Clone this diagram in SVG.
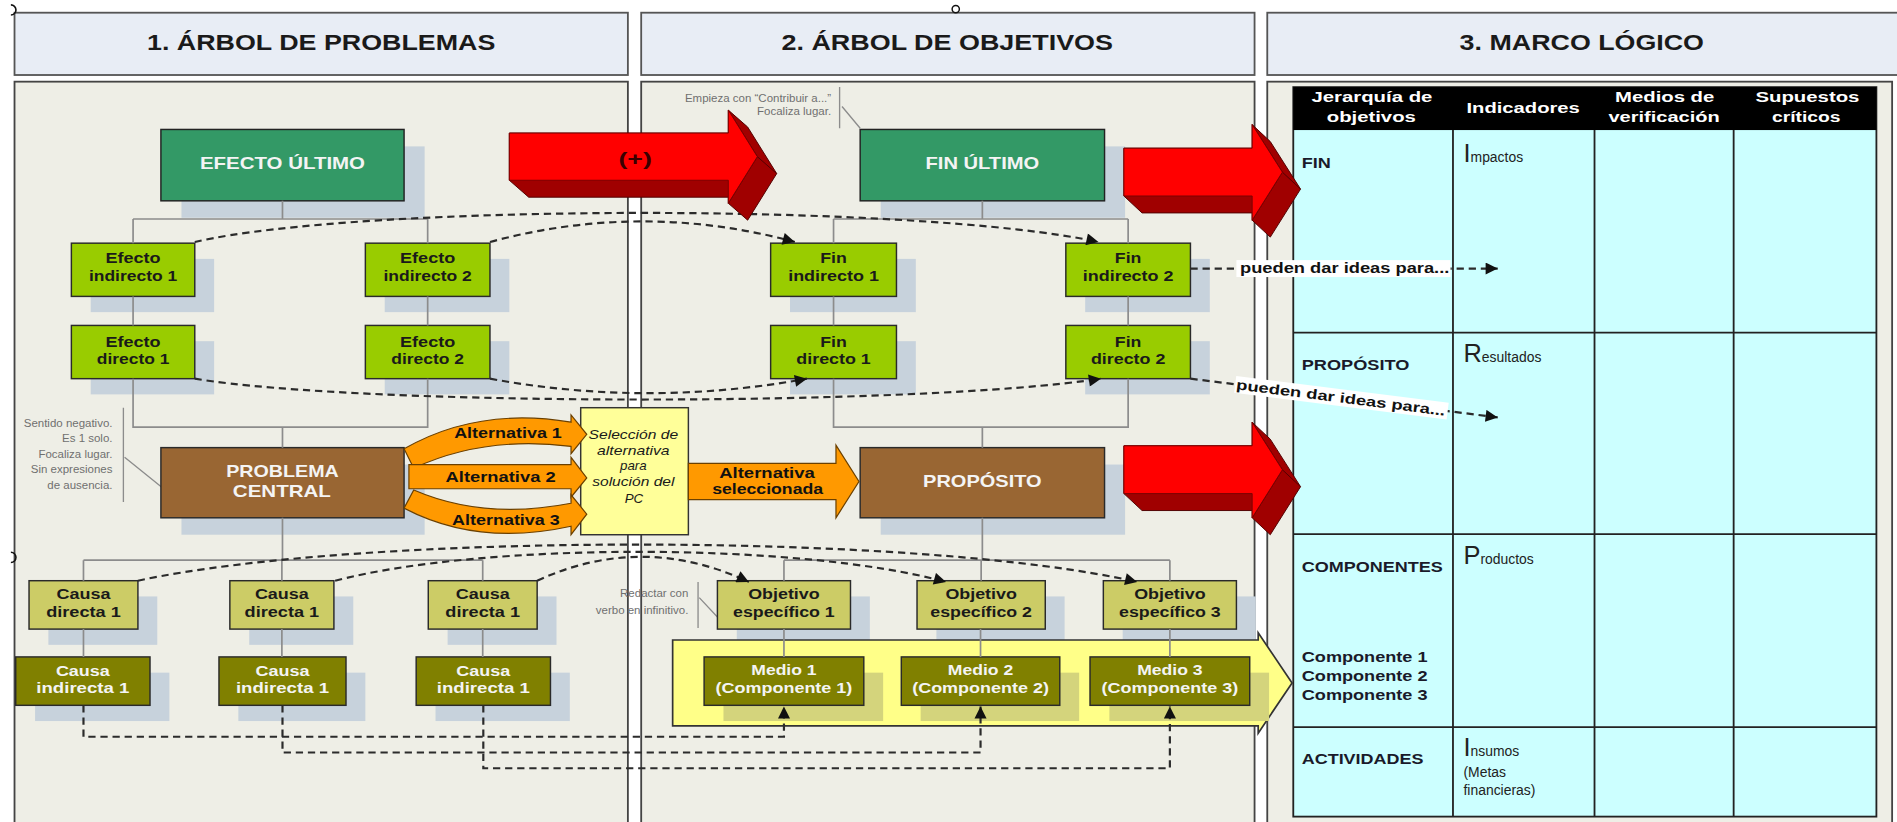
<svg xmlns="http://www.w3.org/2000/svg" width="1897" height="822" viewBox="0 0 1897 822">
<defs>
<style>
text{font-family:"Liberation Sans",Arial,sans-serif}
.tbox{fill:#e8edf5;stroke:#555;stroke-width:1.5}
.panel{fill:#eeeee6;stroke:#444;stroke-width:1.5}
.title{font-weight:bold;font-size:17.5px;fill:#1a1a1a;text-anchor:middle}
.sh{fill:#c7d2dc}
.shy{fill:#d4d47c}
.green{fill:#339966;stroke:#222;stroke-width:1.2}
.lime{fill:#99cc00;stroke:#2a2a2a;stroke-width:1.2}
.brown{fill:#996633;stroke:#2a2a2a;stroke-width:1.2}
.oll{fill:#cccc66;stroke:#2a2a2a;stroke-width:1.2}
.old{fill:#808000;stroke:#2a2a2a;stroke-width:1.2}
.wt{font-weight:bold;font-size:13px;fill:#f4f4f4;text-anchor:middle}
.bt{font-weight:bold;font-size:12px;fill:#1a1a1a;text-anchor:middle}
.ws{font-weight:bold;font-size:12px;fill:#f4f4f4;text-anchor:middle}
.ann{font-size:9.5px;fill:#707070;text-anchor:end}
.annl{stroke:#8c8c8c;stroke-width:1.1;fill:none}
.conn{stroke:#8c8c8c;stroke-width:1.4;fill:none}
.dash{stroke:#2b2b2b;stroke-width:1.8;stroke-dasharray:6 4;fill:none}
.orange{fill:#ff9900;stroke:#6b4000;stroke-width:1}
.alt{font-weight:bold;font-size:12px;fill:#111;text-anchor:middle}
.redf{fill:#ff0000;stroke:#7a0000;stroke-width:0.8}
.redd{fill:#a00000;stroke:#500000;stroke-width:0.8}
.hdr{font-weight:bold;font-size:12px;fill:#fff;text-anchor:middle}
.row{font-weight:bold;font-size:11.5px;fill:#1a1a2a}
.ind{font-size:11.5px;fill:#222}
.big{font-size:21px}
.lbl{font-weight:bold;font-size:11.5px;fill:#111}
.sel{font-style:italic;font-size:11px;fill:#1a1a1a;text-anchor:middle}
</style>
<marker id="ah" viewBox="0 0 10 10" refX="10" refY="5" markerUnits="userSpaceOnUse" markerWidth="12" markerHeight="10" orient="auto">
<path d="M0,0 L10,5 L0,10 z" fill="#111"/>
</marker>
</defs>
<rect x="0" y="0" width="1897" height="822" fill="#ffffff"/>
<g transform="scale(1.2098)">

<g id="panels">
<rect class="tbox" x="12" y="10.5" width="507" height="51.5"/>
<rect class="tbox" x="530" y="10.5" width="507" height="51.5"/>
<rect class="tbox" x="1047.5" y="10.5" width="540" height="51.5"/>
<text class="title" x="265.5" y="41.3" textLength="288" lengthAdjust="spacingAndGlyphs">1. ÁRBOL DE PROBLEMAS</text>
<text class="title" x="783" y="41.3" textLength="274" lengthAdjust="spacingAndGlyphs">2. ÁRBOL DE OBJETIVOS</text>
<text class="title" x="1307.5" y="41.3" textLength="202" lengthAdjust="spacingAndGlyphs">3. MARCO LÓGICO</text>
<rect class="panel" x="12" y="67.5" width="507" height="640"/>
<rect class="panel" x="530" y="67.5" width="507" height="640"/>
<rect class="panel" x="1047.5" y="67.5" width="516.5" height="640"/>
<circle cx="790" cy="7.5" r="3" fill="#fff" stroke="#111" stroke-width="1.2"/>
<path d="M9,4 a4.2,4.2 0 0 1 0,8.4 M9,456.5 a4.2,4.2 0 0 1 0,8.4" fill="none" stroke="#111" stroke-width="1.3"/>
</g>

<g id="annotations">
<text class="ann" x="93" y="352.7">Sentido negativo.</text>
<text class="ann" x="93" y="365.6">Es 1 solo.</text>
<text class="ann" x="93" y="378.3">Focaliza lugar.</text>
<text class="ann" x="93" y="391.2">Sin expresiones</text>
<text class="ann" x="93" y="404.2">de ausencia.</text>
<path class="annl" d="M102,337 V415 M103,378 L134,403"/>
<text class="ann" x="687" y="84">Empieza con “Contribuir a...”</text>
<text class="ann" x="687" y="95">Focaliza lugar.</text>
<path class="annl" d="M694,72 V106 M696,88 L711,106"/>
<text class="ann" x="569" y="493.2">Redactar con</text>
<text class="ann" x="569" y="507.5">verbo en infinitivo.</text>
<path class="annl" d="M577,481 V519 M578,494 L593,510"/>
</g>

<g id="marco-logico">
<rect x="1069" y="72" width="482" height="603" fill="#ccffff" stroke="#222" stroke-width="1.5"/>
<rect x="1069" y="72" width="482" height="35.5" fill="#000"/>
<path d="M1201,107.5 V675 M1318,107.5 V675 M1433,107.5 V675 M1069,275 H1551 M1069,441.5 H1551 M1069,601 H1551" stroke="#222" stroke-width="1.5" fill="none"/>
<text class="hdr" x="1134" y="84" textLength="100" lengthAdjust="spacingAndGlyphs">Jerarquía de</text>
<text class="hdr" x="1133.5" y="100.6" textLength="73.6" lengthAdjust="spacingAndGlyphs">objetivos</text>
<text class="hdr" x="1259" y="93.7" textLength="93.6" lengthAdjust="spacingAndGlyphs">Indicadores</text>
<text class="hdr" x="1376" y="84" textLength="82" lengthAdjust="spacingAndGlyphs">Medios de</text>
<text class="hdr" x="1375.5" y="100.6" textLength="92" lengthAdjust="spacingAndGlyphs">verificación</text>
<text class="hdr" x="1494" y="84" textLength="86" lengthAdjust="spacingAndGlyphs">Supuestos</text>
<text class="hdr" x="1493" y="100.6" textLength="56.6" lengthAdjust="spacingAndGlyphs">críticos</text>
<text class="row" x="1076" y="139" textLength="24" lengthAdjust="spacingAndGlyphs">FIN</text>
<text class="row" x="1076" y="305.8" textLength="89" lengthAdjust="spacingAndGlyphs">PROPÓSITO</text>
<text class="row" x="1076" y="473" textLength="116.6" lengthAdjust="spacingAndGlyphs">COMPONENTES</text>
<text class="row" x="1076" y="547" textLength="104" lengthAdjust="spacingAndGlyphs">Componente 1</text>
<text class="row" x="1076" y="563" textLength="104" lengthAdjust="spacingAndGlyphs">Componente 2</text>
<text class="row" x="1076" y="578.5" textLength="104" lengthAdjust="spacingAndGlyphs">Componente 3</text>
<text class="row" x="1076" y="631.8" textLength="100.6" lengthAdjust="spacingAndGlyphs">ACTIVIDADES</text>
<text class="ind" x="1209.7" y="133.6"><tspan class="big">I</tspan>mpactos</text>
<text class="ind" x="1209.7" y="299"><tspan class="big">R</tspan>esultados</text>
<text class="ind" x="1209.7" y="466.2"><tspan class="big">P</tspan>roductos</text>
<text class="ind" x="1209.7" y="625"><tspan class="big">I</tspan>nsumos</text>
<text class="ind" x="1209.7" y="642">(Metas</text>
<text class="ind" x="1209.7" y="657">financieras)</text>
</g>

<g id="efecto-ultimo"><rect class="sh" x="150" y="121" width="201" height="59"/><rect class="green" x="133" y="107" width="201" height="59"/><text class="wt" x="233.5" y="140" textLength="136.5" lengthAdjust="spacingAndGlyphs">EFECTO ÚLTIMO</text></g>
<g id="efecto-indirecto-1"><rect class="sh" x="75" y="214" width="102" height="44"/><rect class="lime" x="59" y="201" width="102" height="44"/><text class="bt" x="110" y="217.6" textLength="45.6" lengthAdjust="spacingAndGlyphs">Efecto</text><text class="bt" x="110" y="232.6" textLength="73" lengthAdjust="spacingAndGlyphs">indirecto 1</text></g>
<g id="efecto-indirecto-2"><rect class="sh" x="318" y="214" width="103" height="44"/><rect class="lime" x="302" y="201" width="103" height="44"/><text class="bt" x="353.5" y="217.6" textLength="45.6" lengthAdjust="spacingAndGlyphs">Efecto</text><text class="bt" x="353.5" y="232.6" textLength="73" lengthAdjust="spacingAndGlyphs">indirecto 2</text></g>
<g id="efecto-directo-1"><rect class="sh" x="75" y="282" width="102" height="44"/><rect class="lime" x="59" y="269" width="102" height="44"/><text class="bt" x="110" y="286.6" textLength="45.6" lengthAdjust="spacingAndGlyphs">Efecto</text><text class="bt" x="110" y="300.9" textLength="60" lengthAdjust="spacingAndGlyphs">directo 1</text></g>
<g id="efecto-directo-2"><rect class="sh" x="318" y="282" width="103" height="44"/><rect class="lime" x="302" y="269" width="103" height="44"/><text class="bt" x="353.5" y="286.6" textLength="45.6" lengthAdjust="spacingAndGlyphs">Efecto</text><text class="bt" x="353.5" y="300.9" textLength="60" lengthAdjust="spacingAndGlyphs">directo 2</text></g>
<g id="problema-central"><rect class="sh" x="150" y="384" width="201" height="58"/><rect class="brown" x="133" y="370" width="201" height="58"/><text class="wt" x="233.5" y="394" textLength="93" lengthAdjust="spacingAndGlyphs">PROBLEMA</text><text class="wt" x="233" y="410.6" textLength="81" lengthAdjust="spacingAndGlyphs">CENTRAL</text></g>
<g id="causa-directa-1"><rect class="sh" x="40" y="493" width="90" height="40"/><rect class="oll" x="24" y="480" width="90" height="40"/><text class="bt" x="69" y="495.4" textLength="44.6" lengthAdjust="spacingAndGlyphs">Causa</text><text class="bt" x="69" y="509.7" textLength="61.7" lengthAdjust="spacingAndGlyphs">directa 1</text></g>
<g id="causa-directa-2"><rect class="sh" x="206" y="493" width="86" height="40"/><rect class="oll" x="190" y="480" width="86" height="40"/><text class="bt" x="233" y="495.4" textLength="44.6" lengthAdjust="spacingAndGlyphs">Causa</text><text class="bt" x="233" y="509.7" textLength="61.7" lengthAdjust="spacingAndGlyphs">directa 1</text></g>
<g id="causa-directa-3"><rect class="sh" x="370" y="493" width="90" height="40"/><rect class="oll" x="354" y="480" width="90" height="40"/><text class="bt" x="399" y="495.4" textLength="44.6" lengthAdjust="spacingAndGlyphs">Causa</text><text class="bt" x="399" y="509.7" textLength="61.7" lengthAdjust="spacingAndGlyphs">directa 1</text></g>
<g id="causa-indirecta-1"><rect class="sh" x="29" y="556" width="111" height="40"/><rect class="old" x="13" y="543" width="111" height="40"/><text class="ws" x="68.5" y="558.8" textLength="44.6" lengthAdjust="spacingAndGlyphs">Causa</text><text class="ws" x="68.5" y="573.1" textLength="77" lengthAdjust="spacingAndGlyphs">indirecta 1</text></g>
<g id="causa-indirecta-2"><rect class="sh" x="197" y="556" width="105" height="40"/><rect class="old" x="181" y="543" width="105" height="40"/><text class="ws" x="233.5" y="558.8" textLength="44.6" lengthAdjust="spacingAndGlyphs">Causa</text><text class="ws" x="233.5" y="573.1" textLength="77" lengthAdjust="spacingAndGlyphs">indirecta 1</text></g>
<g id="causa-indirecta-3"><rect class="sh" x="360" y="556" width="111" height="40"/><rect class="old" x="344" y="543" width="111" height="40"/><text class="ws" x="399.5" y="558.8" textLength="44.6" lengthAdjust="spacingAndGlyphs">Causa</text><text class="ws" x="399.5" y="573.1" textLength="77" lengthAdjust="spacingAndGlyphs">indirecta 1</text></g>

<g id="fin-ultimo"><rect class="sh" x="728" y="121" width="202" height="59"/><rect class="green" x="711" y="107" width="202" height="59"/><text class="wt" x="812" y="140" textLength="94" lengthAdjust="spacingAndGlyphs">FIN ÚLTIMO</text></g>
<g id="fin-indirecto-1"><rect class="sh" x="653" y="214" width="104" height="44"/><rect class="lime" x="637" y="201" width="104" height="44"/><text class="bt" x="689" y="217.6" textLength="22" lengthAdjust="spacingAndGlyphs">Fin</text><text class="bt" x="689" y="232.6" textLength="75" lengthAdjust="spacingAndGlyphs">indirecto 1</text></g>
<g id="fin-indirecto-2"><rect class="sh" x="897" y="214" width="103" height="44"/><rect class="lime" x="881" y="201" width="103" height="44"/><text class="bt" x="932.5" y="217.6" textLength="22" lengthAdjust="spacingAndGlyphs">Fin</text><text class="bt" x="932.5" y="232.6" textLength="75" lengthAdjust="spacingAndGlyphs">indirecto 2</text></g>
<g id="fin-directo-1"><rect class="sh" x="653" y="282" width="104" height="44"/><rect class="lime" x="637" y="269" width="104" height="44"/><text class="bt" x="689" y="286.6" textLength="22" lengthAdjust="spacingAndGlyphs">Fin</text><text class="bt" x="689" y="300.9" textLength="61.5" lengthAdjust="spacingAndGlyphs">directo 1</text></g>
<g id="fin-directo-2"><rect class="sh" x="897" y="282" width="103" height="44"/><rect class="lime" x="881" y="269" width="103" height="44"/><text class="bt" x="932.5" y="286.6" textLength="22" lengthAdjust="spacingAndGlyphs">Fin</text><text class="bt" x="932.5" y="300.9" textLength="61.5" lengthAdjust="spacingAndGlyphs">directo 2</text></g>
<g id="proposito"><rect class="sh" x="728" y="384" width="202" height="58"/><rect class="brown" x="711" y="370" width="202" height="58"/><text class="wt" x="812" y="402.3" textLength="98" lengthAdjust="spacingAndGlyphs">PROPÓSITO</text></g>
<g id="objetivo-1"><rect class="sh" x="609" y="493" width="110" height="40"/><rect class="oll" x="593" y="480" width="110" height="40"/><text class="bt" x="648" y="495.4" textLength="59" lengthAdjust="spacingAndGlyphs">Objetivo</text><text class="bt" x="648" y="509.7" textLength="84" lengthAdjust="spacingAndGlyphs">específico 1</text></g>
<g id="objetivo-2"><rect class="sh" x="774" y="493" width="106" height="40"/><rect class="oll" x="758" y="480" width="106" height="40"/><text class="bt" x="811" y="495.4" textLength="59" lengthAdjust="spacingAndGlyphs">Objetivo</text><text class="bt" x="811" y="509.7" textLength="84" lengthAdjust="spacingAndGlyphs">específico 2</text></g>
<g id="objetivo-3"><rect class="sh" x="928" y="493" width="110" height="40"/><rect class="oll" x="912" y="480" width="110" height="40"/><text class="bt" x="967" y="495.4" textLength="59" lengthAdjust="spacingAndGlyphs">Objetivo</text><text class="bt" x="967" y="509.7" textLength="84" lengthAdjust="spacingAndGlyphs">específico 3</text></g>

<g id="banda-componentes"><path d="M556,529 H1040 V523 L1068,564.5 L1040,606 V600 H556 Z" fill="#ffff88" stroke="#333" stroke-width="1.4"/></g>
<g id="medio-1"><rect class="shy" x="598" y="556" width="132" height="40"/><rect class="old" x="582" y="543" width="132" height="40"/><text class="ws" x="648" y="558" textLength="54" lengthAdjust="spacingAndGlyphs">Medio 1</text><text class="ws" x="648" y="573.1" textLength="113" lengthAdjust="spacingAndGlyphs">(Componente 1)</text></g>
<g id="medio-2"><rect class="shy" x="761" y="556" width="131" height="40"/><rect class="old" x="745" y="543" width="131" height="40"/><text class="ws" x="810.5" y="558" textLength="54" lengthAdjust="spacingAndGlyphs">Medio 2</text><text class="ws" x="810.5" y="573.1" textLength="113" lengthAdjust="spacingAndGlyphs">(Componente 2)</text></g>
<g id="medio-3"><rect class="shy" x="917" y="556" width="132" height="40"/><rect class="old" x="901" y="543" width="132" height="40"/><text class="ws" x="967" y="558" textLength="54" lengthAdjust="spacingAndGlyphs">Medio 3</text><text class="ws" x="967" y="573.1" textLength="113" lengthAdjust="spacingAndGlyphs">(Componente 3)</text></g>

<g id="seleccion"><rect x="480" y="337" width="89" height="105" fill="#ffff99" stroke="#333" stroke-width="1.2"/>
<text class="sel" x="523.5" y="363" textLength="74" lengthAdjust="spacingAndGlyphs">Selección de</text>
<text class="sel" x="523.5" y="376" textLength="60" lengthAdjust="spacingAndGlyphs">alternativa</text>
<text class="sel" x="523.5" y="388.5">para</text>
<text class="sel" x="523.5" y="401.7" textLength="68" lengthAdjust="spacingAndGlyphs">solución del</text>
<text class="sel" x="524" y="415.5">PC</text></g>

<g id="connectors">
<path class="conn" d="M233.5,166 V181 M110,181 H353.5 M110,181 V201 M353.5,181 V201 M110,245 V269 M353.5,245 V269 M110,313 V353 H353.5 V313 M233.5,353 V370 M233.5,428 V463 M69,463 H399 M69,463 V480 M233,463 V480 M399,463 V480 M69,520 V543 M233,520 V543 M399,520 V543"/>
<path class="conn" d="M812,166 V181 M689,181 H932.5 M689,181 V201 M932.5,181 V201 M689,245 V269 M932.5,245 V269 M689,313 V353 H932.5 V313 M812,353 V370 M812,428 V463 M648,463 H967 M648,463 V480 M811,463 V480 M967,463 V480 M648,520 V543 M810.5,520 V543 M967,520 V543"/>
<path class="dash" marker-end="url(#ah)" d="M161,200 C300,168 760,168 908,200"/>
<path class="dash" marker-end="url(#ah)" d="M405,200 Q531,166 657,200"/>
<path class="dash" marker-end="url(#ah)" d="M161,313 C300,336 760,336 910,313"/>
<path class="dash" marker-end="url(#ah)" d="M405,313 Q536,337 667,313"/>
<path class="dash" marker-end="url(#ah)" d="M114,480 C300,440 760,440 940,481"/>
<path class="dash" marker-end="url(#ah)" d="M277,480 C400,448 660,448 782,481"/>
<path class="dash" marker-end="url(#ah)" d="M444,480 Q531,440 619,481"/>
<path class="dash" marker-end="url(#ah)" d="M69,583 V609 H648 V584"/>
<path class="dash" marker-end="url(#ah)" d="M233.5,583 V622 H810.5 V584"/>
<path class="dash" marker-end="url(#ah)" d="M399.5,583 V635 H967 V584"/>
<path class="dash" marker-end="url(#ah)" d="M984,222 H1238"/>
<path class="dash" marker-end="url(#ah)" d="M984,313 L1238,345"/>
<rect x="1022" y="215" width="177" height="14" fill="#fff"/>
<text class="lbl" x="1025" y="225.5" textLength="173" lengthAdjust="spacingAndGlyphs">pueden dar ideas para...</text>
<g transform="translate(1022,317.8) rotate(7.2)"><rect x="-1" y="-7" width="177" height="14" fill="#fff"/><text class="lbl" x="0" y="4" textLength="174" lengthAdjust="spacingAndGlyphs">pueden dar ideas para...</text></g>
</g>

<g id="alternativas">
<path class="orange" d="M334,371 Q395,336 472,349 L472,343 L485,359 L472,375 L472,369 Q400,360 342,387 Z"/>
<path class="orange" d="M338,384 L472,384 L472,378 L485,395 L472,411 L472,404 L338,404 Z"/>
<path class="orange" d="M342,405 Q400,430 472,416 L472,409 L485,425 L472,442 L472,435 Q395,452 334,420 Z"/>
<text class="alt" x="419.9" y="362.3" textLength="89" lengthAdjust="spacingAndGlyphs">Alternativa 1</text>
<text class="alt" x="413.8" y="398.6" textLength="91" lengthAdjust="spacingAndGlyphs">Alternativa 2</text>
<text class="alt" x="418.2" y="434" textLength="89" lengthAdjust="spacingAndGlyphs">Alternativa 3</text>
<path class="orange" d="M569,383 L691,383 L691,368 L710,398 L691,428 L691,413 L569,413 Z"/>
<text class="alt" x="634" y="394.7" textLength="79" lengthAdjust="spacingAndGlyphs">Alternativa</text>
<text class="alt" x="634.5" y="408.4" textLength="91.7" lengthAdjust="spacingAndGlyphs">seleccionada</text>
</g>

<g id="flechas-rojas">
<path class="redd" d="M421,110 L602,110 L602,91 L618,105 L642,143.5 L618,182 L602,168 L602,163 L437,163 L421,149 Z"/>
<path class="redd" d="M602,91 L626,129.5 L642,143.5 M626,129.5 L602,168" fill="none"/>
<path class="redf" d="M421,110 L602,110 L602,91 L626,129.5 L602,168 L602,149 L421,149 Z"/>
<text x="525" y="136.4" font-weight="bold" font-size="15" fill="#3a0000" text-anchor="middle" textLength="27.6" lengthAdjust="spacingAndGlyphs">(+)</text>
<path class="redd" d="M929,122.5 L1035,122.5 L1035,103 L1050,117 L1075,156.3 L1050,196 L1035,182 L1035,176 L944,176 L929,162 Z"/>
<path class="redd" d="M1035,103 L1060,142.3 L1075,156.3 M1060,142.3 L1035,182" fill="none"/>
<path class="redf" d="M929,122.5 L1035,122.5 L1035,103 L1060,142.3 L1035,182 L1035,162 L929,162 Z"/>
<path class="redd" d="M929,368.5 L1035,368.5 L1035,349 L1050,363 L1075,402.3 L1050,442 L1035,428 L1035,422 L944,422 L929,408 Z"/>
<path class="redd" d="M1035,349 L1060,388.3 L1075,402.3 M1060,388.3 L1035,428" fill="none"/>
<path class="redf" d="M929,368.5 L1035,368.5 L1035,349 L1060,388.3 L1035,428 L1035,408 L929,408 Z"/>
</g>

</g>
</svg>
